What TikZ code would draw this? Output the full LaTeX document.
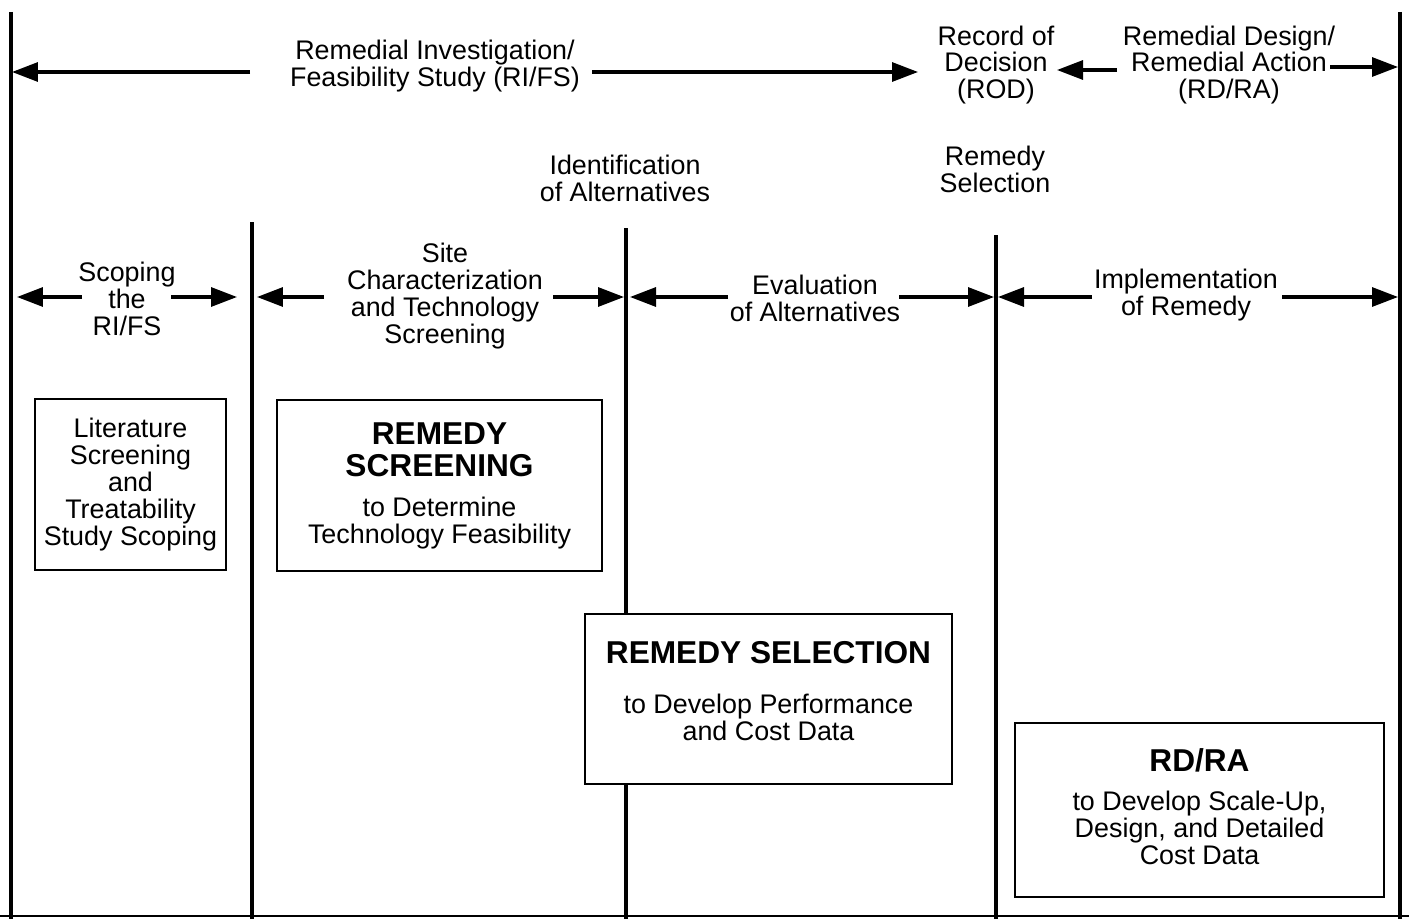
\documentclass[tikz,border=0pt]{standalone}
\usepackage{fontspec}
\setmainfont{Liberation Sans}
\usetikzlibrary{arrows.meta}
\tikzset{
phase/.style={align=center, font=\fontsize{15.3}{15.3}\selectfont, inner sep=0pt},
stepbox/.style={draw, line width=1.6pt, fill=white, align=center,
    font=\fontsize{15.3}{15.3}\selectfont, inner sep=0pt},
divider/.style={line width=2pt},
span/.style={line width=1.8pt, -{Triangle[length=0.52cm, width=0.38cm]}}
}
\newcommand{\boxhead}{\fontsize{18}{18}\selectfont\bfseries}

\begin{document}
\begin{tikzpicture}[x=0.02cm, y=-0.02cm]
	\useasboundingbox (0,0) rectangle (1409,919);
	% phase dividers
	\foreach \name/\x/\top in {d0/11/12, d1/252/222, d2/626/228, d3/996/235, d4/1400/12}{
		\coordinate (\name-t) at (\x,\top);
		\coordinate (\name-b) at (\x,919);
		\draw[divider] (\name-t) -- (\name-b);
	}
	\coordinate (base-l) at (0,916);
	\coordinate (base-r) at (1409,916);
	\draw[line width=1.4pt] (base-l) -- (base-r);

	% upper labels
	\node[phase] (rifs) at (435,66) {Remedial Investigation/\\Feasibility Study (RI/FS)};
	\node[phase] (rod) at (996,65) {Record of\\Decision\\(ROD)};
	\node[phase] (rdra) at (1229,65) {Remedial Design/\\Remedial Action\\(RD/RA)};
	\node[phase] (ident) at (625,178) {Identification\\of Alternatives};
	\node[phase] (remsel) at (995,169) {Remedy\\Selection};

	% lower labels
	\node[phase] (scoping) at (127,299) {Scoping\\the\\RI/FS};
	\node[phase] (sitechar) at (445,296) {Site\\Characterization\\and Technology\\Screening};
	\node[phase] (evalalt) at (815,298) {Evaluation\\of Alternatives};
	\node[phase] (implem) at (1186,295) {Implementation\\of Remedy};

	% arrows
	\foreach \name/\from/\to/\y in {a1/250/12/72, a2/592/918/72, a3/1117/1057/70, a4/1330/1398/67,
		b1/82/17/297, b2/171/237/297, b3/324/257/297, b4/553/624/297,
		b5/728/630/297, b6/899/994/297, b7/1092/998/297, b8/1282/1398/297}{
		\coordinate (\name-s) at (\from,\y);
		\coordinate (\name-e) at (\to,\y);
		\draw[span] (\name-s) -- (\name-e);
	}

	% boxes
	\node[stepbox, minimum width=3.82cm, minimum height=3.42cm] (litscreen) at (130.5,484.5)
		{Literature\\Screening\\and\\Treatability\\Study Scoping};
	\node[stepbox, minimum width=6.5cm, minimum height=3.42cm] (screening) at (439.5,485.5)
		{{\boxhead REMEDY}\\[3pt]{\boxhead SCREENING}\\[7.4pt]to Determine\\Technology Feasibility};
	\node[stepbox, minimum width=7.34cm, minimum height=3.4cm] (selection) at (768.5,699)
		{{\boxhead REMEDY SELECTION}\\[13pt]to Develop Performance\\and Cost Data\\[-6.3pt]\mbox{}};
	\node[stepbox, minimum width=7.38cm, minimum height=3.48cm] (design) at (1199.5,810)
		{{\boxhead RD/RA}\\[7pt]to Develop Scale-Up,\\Design, and Detailed\\Cost Data\\[-11pt]\mbox{}};
\end{tikzpicture}
\end{document}
